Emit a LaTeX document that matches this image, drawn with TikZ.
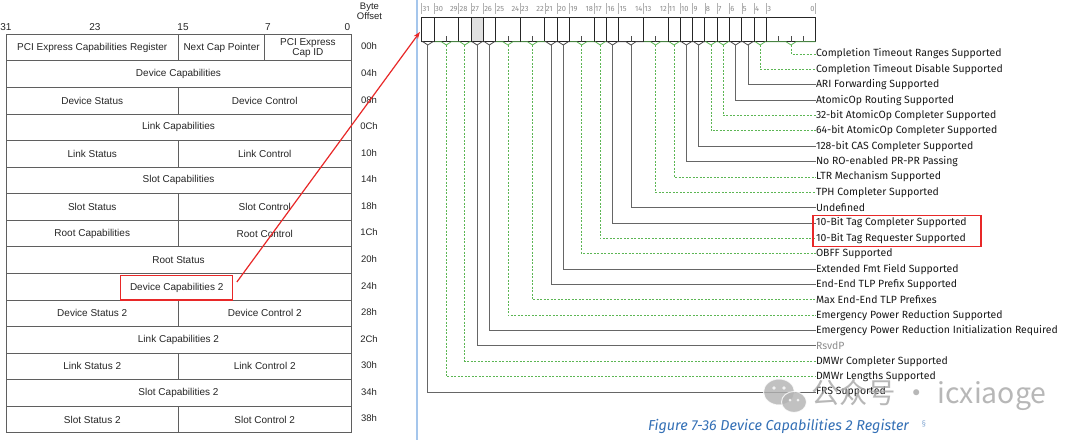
\documentclass[tikz,border=0pt]{standalone}
\usepackage{fontspec}
\setmainfont{Fira Sans}
\newfontfamily\specfont{Liberation Sans}
\newfontfamily\cjkfont{Noto Sans CJK SC}
\usetikzlibrary{arrows.meta,calc}

\definecolor{optgreen}{RGB}{92,182,84}
\definecolor{gridgray}{RGB}{95,95,95}
\definecolor{capblue}{RGB}{52,112,182}
\definecolor{pagerule}{RGB}{165,198,236}
\definecolor{markred}{RGB}{232,40,40}

\def\regx{421.7}
\def\bitw{12.31}

\begin{document}
\begin{tikzpicture}[x=1pt, y=-1pt,
            every node/.style={inner sep=0pt, outer sep=0pt},
            rowbox/.style={draw=gridgray, line width=0.8pt, minimum width=345pt, minimum height=26.56pt},
            grid/.style={draw=gridgray, line width=0.8pt},
            celltext/.style={font=\specfont\fontsize{10}{10}\selectfont, text=black!85, align=center},
            offset/.style={font=\specfont\fontsize{9.5}{10}\selectfont, text=black!85, align=center},
            bitnum/.style={font=\fontsize{7.5}{8}\selectfont, text=black!45},
            bittick/.style={draw=black!30, line width=0.5pt},
            field hw/.style={draw=black!85, line width=0.8pt, minimum height=24.4pt},
            field opt/.style={field hw},
            field rsvd/.style={field hw, fill=black!12},
            brace hw/.style={draw=black!70, line width=0.8pt},
            brace opt/.style={draw=optgreen, line width=0.8pt},
            brace rsvd/.style={brace hw},
            line hw/.style={draw=black!60, line width=0.8pt},
            line opt/.style={draw=optgreen, line width=0.7pt, dash pattern=on 2pt off 1.5pt},
            line rsvd/.style={line hw},
            label hw/.style={font=\fontsize{10.45}{12}\selectfont, text=black!90},
            label opt/.style={label hw},
            label rsvd/.style={label hw, text=black!45},
            markarrow/.style={draw=markred, line width=1.2pt, -{Stealth[length=7pt,width=5pt]}},
            ]
    \useasboundingbox (0,0) rectangle (1080,440);
    \fill[white] (0,0) rectangle (1080,440);

    % page edge
    \draw[pagerule, line width=2.2pt] (416.7,0) -- (416.7,440);

    % capability structure
    \node[offset] (byteoff) at (369.5,11.7) {Byte\\Offset};
    \node[celltext] (b31) at (6,27) {31};
    \node[celltext] (b23) at (95,27) {23};
    \node[celltext] (b15) at (183,27) {15};
    \node[celltext] (b7) at (268,27) {7};
    \node[celltext] (b0) at (347.5,27) {0};

    \foreach \off [count=\r from 0] in {00h,04h,08h,0Ch,10h,14h,18h,1Ch,20h,24h,28h,2Ch,30h,34h,38h} {
        \node[rowbox] (row\r) at (178.5,{34.3+(\r+0.5)*26.56}) {};
        \node[offset] (off\r) at (369,{33.3+(\r+0.5)*26.56}) {\off};
    }

    \draw[grid] (row0.north) -- (row0.south);
    \draw[grid] ($(row0.north)!0.5!(row0.north east)$) -- ($(row0.south)!0.5!(row0.south east)$);
    \node[celltext] (pcicap) at (92.25,47.6) {PCI Express Capabilities Register};
    \node[celltext] (nextptr) at (221.6,47.6) {Next Cap Pointer};
    \node[celltext] (capid) at (307.9,47.6) {PCI Express\\Cap ID};

    \foreach \r/\txt in {1/Device Capabilities, 3/Link Capabilities, 5/Slot Capabilities,
                         8/Root Status, 11/Link Capabilities 2, 13/Slot Capabilities 2}
        \node[celltext] (cell\r) at (row\r) {\txt};

    \foreach \r/\ltxt/\rtxt in {2/Device Status/Device Control, 4/Link Status/Link Control,
                                6/Slot Status/Slot Control, 7/Root Capabilities/Root Control,
                                10/Device Status 2/Device Control 2, 12/Link Status 2/Link Control 2,
                                14/Slot Status 2/Slot Control 2} {
        \draw[grid] (row\r.north) -- (row\r.south);
        \node[celltext] (celll\r) at ($(row\r.west)!0.5!(row\r.center)$) {\ltxt};
        \node[celltext] (cellr\r) at ($(row\r.center)!0.5!(row\r.east)$) {\rtxt};
    }

    \node[celltext, draw=markred, line width=1.2pt, minimum width=112pt, minimum height=24.7pt] (devcaptwo) at (176.7,287.7) {Device Capabilities 2};

    % device capabilities 2 register
    \foreach \hi/\lo/\kind/\txt [count=\i] in {3/0/opt/Completion Timeout Ranges Supported,
            4/4/opt/Completion Timeout Disable Supported,
            5/5/hw/ARI Forwarding Supported,
            6/6/hw/AtomicOp Routing Supported,
            7/7/opt/32-bit AtomicOp Completer Supported,
            8/8/opt/64-bit AtomicOp Completer Supported,
            9/9/hw/128-bit CAS Completer Supported,
            10/10/hw/No RO-enabled PR-PR Passing,
            11/11/opt/LTR Mechanism Supported,
            13/12/opt/TPH Completer Supported,
            15/14/hw/Undefined,
            16/16/hw/10-Bit Tag Completer Supported,
            17/17/opt/10-Bit Tag Requester Supported,
            19/18/opt/OBFF Supported,
            20/20/hw/Extended Fmt Field Supported,
            21/21/hw/End-End TLP Prefix Supported,
            23/22/opt/Max End-End TLP Prefixes,
            25/24/opt/Emergency Power Reduction Supported,
            26/26/hw/Emergency Power Reduction Initialization Required,
            27/27/rsvd/RsvdP,
            28/28/opt/DMWr Completer Supported,
            30/29/opt/DMWr Lengths Supported,
            31/31/hw/FRS Supported} {
        \pgfmathsetmacro\xl{\regx+(31-\hi)*\bitw}
        \pgfmathsetmacro\xr{\regx+(32-\lo)*\bitw}
        \pgfmathsetmacro\xc{(\xl+\xr)/2}
        \pgfmathsetmacro\fw{\xr-\xl}
        \pgfmathsetmacro\vw{min(\fw/2,5)}
        \pgfmathsetmacro\ly{54+(\i-1)*15.36}
        % bit numbers
        \draw[bittick] (\xl,3) -- (\xl,14);
        \node[bitnum, anchor=west] (hi\i) at (\xl+1,8.7) {\hi};
        \ifnum\hi>\lo
            \node[bitnum, anchor=east] (lo\i) at (\xr-1,8.7) {\lo};
        \fi
        % field
        \node[field \kind, minimum width=\fw pt] (f\i) at (\xc,29.5) {};
        \ifnum\hi>\lo
            \pgfmathtruncatemacro\lop{\lo+1}
            \foreach \b in {\lop,...,\hi}
                \draw[draw=black!70, line width=0.7pt] ({\regx+(32-\b)*\bitw},41.7) -- ++(0,-6);
        \fi
        \draw[brace \kind] (f\i.south west) -- ($(f\i.south)+(-\vw,0)$) -- ++(\vw,3.3) coordinate (v\i)
            -- ($(f\i.south)+(\vw,0)$) -- (f\i.south east);
        % description
        \node[label \kind, anchor=west] (lab\i) at (816,\ly) {\txt};
        \draw[line \kind] (v\i) |- (lab\i.west);
    }
    \draw[bittick] (815.7,3) -- (815.7,14);

    \node[draw=markred, line width=1.2pt, minimum width=168pt, minimum height=31pt, anchor=west] (tagsel)
        at ($(lab12.west)!0.5!(lab13.west)+(-3,0)$) {};

    \draw[markarrow, shorten <=7pt, shorten >=3pt] (devcaptwo.east) -- (f23.west);

    \node[font=\itshape\fontsize{14.4}{16}\selectfont, text=capblue] (caption) at (778.5,426.5)
        {Figure 7-36 Device Capabilities 2 Register};
    \node[font=\fontsize{8.5}{9}\selectfont, text=capblue!55] (sect) at (924,424) {§};

    % watermark
    \begin{scope}[opacity=0.8]
        \fill[black!30, draw=white, line width=1pt] (779,392) ellipse [x radius=15.5, y radius=13];
        \fill[black!30, draw=white, line width=1pt] (794,402) ellipse [x radius=12.5, y radius=10.5];
        \fill[white] (774,388) circle [radius=1.8] (784,388) circle [radius=1.8]
                     (790,400) circle [radius=1.5] (798,400) circle [radius=1.5];
        \node[font=\cjkfont\fontsize{28.4}{29}\selectfont, text=black!35, anchor=west] (wmark) at (811,395)
            {公众号 · icxiaoge};
    \end{scope}
\end{tikzpicture}
\end{document}
